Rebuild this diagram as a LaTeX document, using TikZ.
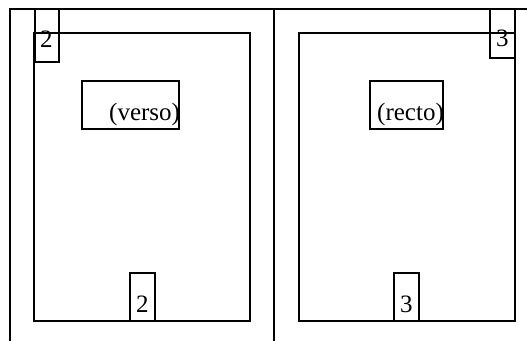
\documentclass[tikz,border=0pt]{standalone}
\usepackage{fontspec}
\setmainfont{Liberation Serif}
\begin{document}
\begin{tikzpicture}[x=1pt,y=-1pt,
  ln/.style={line width=2pt},
  lbl/.style={inner sep=0pt,anchor=base west,font=\fontsize{25}{28}\selectfont}]
\useasboundingbox (0,0) rectangle (527,341);
% outer frame
\draw[ln] (10,341) -- (10,9) -- (527,9);
\draw[ln] (274,9) -- (274,341);
% pages
\draw[ln] (34,33) rectangle (250,321);
\draw[ln] (299,33) rectangle (515,321);
% number boxes
\draw[ln] (35,9) rectangle (59,62);
\draw[ln] (490,9) rectangle (515,58);
\draw[ln] (130,273) rectangle (155,321);
\draw[ln] (394,273) rectangle (419,321);
% title boxes
\draw[ln] (82,81) rectangle (179,129);
\draw[ln] (370,81) rectangle (443,129);
% texts
\node[lbl] (t2) at (40,47) {2};
\node[lbl] (t3) at (496,46) {3};
\node[lbl] (b2) at (136,312) {2};
\node[lbl] (b3) at (400,312) {3};
\node[lbl] (verso) at (109,120) {(verso)};
\node[lbl] (recto) at (377,120) {(recto)};
\end{tikzpicture}
\end{document}
